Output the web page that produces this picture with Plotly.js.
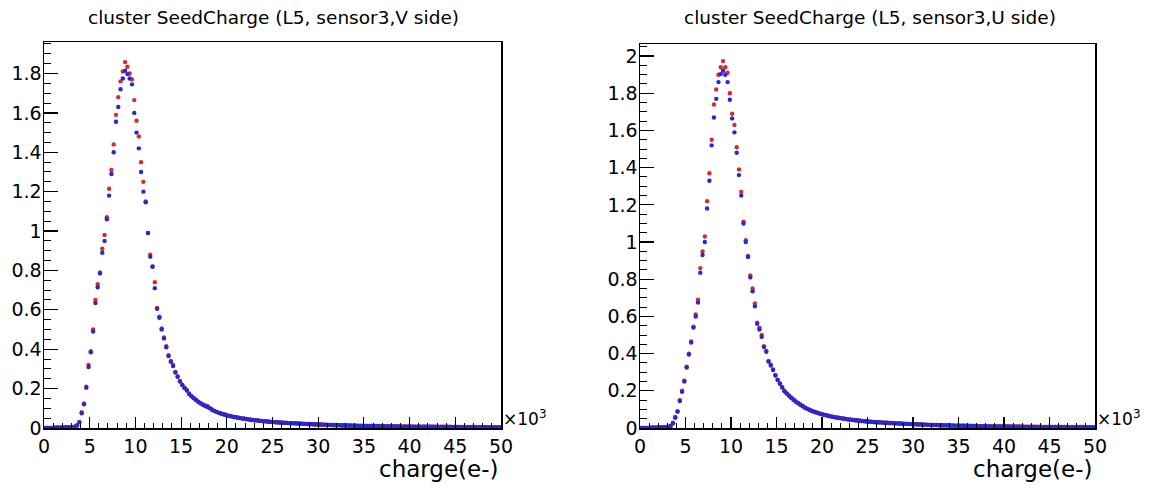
<!DOCTYPE html>
<html>
<head>
<meta charset="utf-8">
<script src="https://cdn.plot.ly/plotly-3.0.1.min.js"></script>
<style>
html,body{margin:0;padding:0;background:#fff;}
#chart{width:1153px;height:488px;}
</style>
</head>
<body>
<div id="chart"></div>
<script>
// Histogram: 200 bins of 250 e- from 0 to 50000 e- (x axis shown in units of 10^3)
var binWidthK = 0.25;
var nBins = 200;

// Panel titles / axis labels
var titleV = "cluster SeedCharge (L5, sensor3,V side)";
var titleU = "cluster SeedCharge (L5, sensor3,U side)";
var xLabel = "charge(e-)";
var xTickVals = [0,5,10,15,20,25,30,35,40,45,50];
var yTickValsV = [0,0.2,0.4,0.6,0.8,1,1.2,1.4,1.6,1.8];
var yTickValsU = [0,0.2,0.4,0.6,0.8,1,1.2,1.4,1.6,1.8,2];

// V side, red series
var vRed = [
0,0,0,0,0.002,0.002,0.003,0.002,0.003,0.004,
0.003,0.004,0.005,0.007,0.015,0.03,0.08,0.125,0.21,0.32,
0.39,0.50,0.65,0.73,0.79,0.91,0.98,1.07,1.215,1.31,
1.44,1.59,1.68,1.76,1.81,1.858,1.834,1.80,1.77,1.665,
1.56,1.48,1.35,1.25,1.15,0.99,0.88,0.82,0.74,0.61,
0.565,0.505,0.46,0.415,0.37,0.34,0.32,0.285,0.262,0.239,
0.22,0.205,0.193,0.175,0.163,0.153,0.144,0.134,0.127,0.119,
0.115,0.112,0.102,0.094,0.087,0.082,0.078,0.074,0.070,0.067,
0.063,0.061,0.058,0.056,0.054,0.051,0.049,0.048,0.046,0.044,
0.042,0.041,0.039,0.038,0.037,0.036,0.035,0.034,0.032,0.031,
0.030,0.029,0.029,0.028,0.027,0.027,0.026,0.025,0.025,0.024,
0.024,0.023,0.022,0.022,0.021,0.020,0.020,0.019,0.019,0.019,
0.018,0.018,0.017,0.017,0.016,0.016,0.015,0.015,0.015,0.014,
0.014,0.014,0.013,0.013,0.013,0.012,0.012,0.012,0.012,0.011,
0.011,0.011,0.011,0.010,0.010,0.010,0.010,0.010,0.009,0.009,
0.009,0.009,0.009,0.009,0.008,0.008,0.008,0.008,0.008,0.008,
0.008,0.007,0.007,0.007,0.007,0.007,0.007,0.007,0.007,0.006,
0.006,0.006,0.006,0.006,0.006,0.006,0.006,0.006,0.005,0.005,
0.005,0.005,0.005,0.005,0.005,0.005,0.005,0.005,0.005,0.004,
0.004,0.004,0.004,0.004,0.004,0.004,0.004,0.004,0.004,0.004
];

// V side, blue series
var vBlue = [
0,0,0,0,0.002,0.003,0.002,0.003,0.003,0.003,
0.004,0.004,0.004,0.006,0.012,0.03,0.075,0.12,0.205,0.31,
0.385,0.49,0.635,0.715,0.785,0.89,0.95,1.06,1.18,1.29,
1.40,1.555,1.63,1.72,1.775,1.814,1.797,1.775,1.745,1.60,
1.50,1.42,1.30,1.20,1.146,0.99,0.87,0.819,0.71,0.605,
0.56,0.50,0.455,0.41,0.365,0.336,0.315,0.282,0.26,0.236,
0.218,0.203,0.19,0.173,0.161,0.151,0.142,0.133,0.125,0.118,
0.112,0.107,0.101,0.093,0.087,0.082,0.077,0.073,0.070,0.066,
0.063,0.060,0.058,0.055,0.053,0.051,0.049,0.047,0.046,0.044,
0.042,0.040,0.039,0.038,0.036,0.035,0.034,0.033,0.032,0.031,
0.030,0.029,0.028,0.028,0.027,0.026,0.026,0.025,0.024,0.024,
0.023,0.023,0.022,0.021,0.021,0.020,0.019,0.019,0.018,0.018,
0.018,0.017,0.017,0.016,0.016,0.015,0.015,0.014,0.014,0.014,
0.013,0.013,0.013,0.012,0.012,0.012,0.012,0.011,0.011,0.011,
0.011,0.010,0.010,0.010,0.010,0.009,0.009,0.009,0.009,0.009,
0.008,0.008,0.008,0.008,0.008,0.008,0.007,0.007,0.007,0.007,
0.007,0.007,0.007,0.006,0.006,0.006,0.006,0.006,0.006,0.006,
0.006,0.005,0.005,0.005,0.005,0.005,0.005,0.005,0.005,0.005,
0.005,0.005,0.004,0.004,0.004,0.004,0.004,0.004,0.004,0.004,
0.004,0.004,0.004,0.004,0.003,0.003,0.003,0.003,0.003,0.003
];

// U side, red series
var uRed = [
0,0,0,0,0.002,0.002,0.003,0.003,0.003,0.004,
0.004,0.005,0.006,0.012,0.029,0.06,0.09,0.15,0.20,0.255,
0.33,0.40,0.465,0.545,0.61,0.69,0.86,0.95,1.03,1.22,
1.37,1.55,1.74,1.82,1.90,1.94,1.973,1.94,1.91,1.80,
1.69,1.63,1.51,1.39,1.27,1.11,1.01,0.925,0.82,0.75,
0.67,0.566,0.54,0.50,0.44,0.415,0.36,0.34,0.315,0.285,
0.26,0.24,0.22,0.20,0.187,0.175,0.164,0.153,0.143,0.135,
0.126,0.118,0.110,0.104,0.098,0.093,0.088,0.084,0.080,0.076,
0.073,0.070,0.067,0.064,0.061,0.059,0.057,0.055,0.053,0.051,
0.049,0.047,0.045,0.044,0.042,0.041,0.040,0.038,0.037,0.036,
0.035,0.034,0.033,0.032,0.031,0.030,0.030,0.029,0.028,0.027,
0.027,0.026,0.025,0.025,0.024,0.023,0.023,0.022,0.022,0.021,
0.021,0.020,0.020,0.019,0.019,0.018,0.018,0.017,0.017,0.017,
0.016,0.016,0.015,0.015,0.015,0.014,0.014,0.014,0.013,0.013,
0.013,0.012,0.012,0.012,0.012,0.011,0.011,0.011,0.011,0.010,
0.010,0.010,0.010,0.010,0.009,0.009,0.009,0.009,0.009,0.009,
0.008,0.008,0.008,0.008,0.008,0.008,0.008,0.007,0.007,0.007,
0.007,0.007,0.007,0.007,0.007,0.006,0.006,0.006,0.006,0.006,
0.006,0.006,0.006,0.006,0.005,0.005,0.005,0.005,0.005,0.005,
0.005,0.005,0.005,0.005,0.005,0.005,0.004,0.004,0.004,0.004
];

// U side, blue series
var uBlue = [
0,0,0,0,0.002,0.003,0.002,0.003,0.004,0.003,
0.004,0.005,0.005,0.011,0.025,0.055,0.088,0.145,0.195,0.25,
0.325,0.395,0.46,0.54,0.60,0.675,0.835,0.93,1.00,1.18,
1.33,1.52,1.67,1.77,1.86,1.903,1.921,1.90,1.86,1.765,
1.665,1.59,1.48,1.36,1.25,1.10,1.00,0.92,0.81,0.735,
0.655,0.56,0.53,0.49,0.435,0.41,0.357,0.336,0.312,0.282,
0.258,0.238,0.218,0.198,0.185,0.173,0.162,0.151,0.141,0.133,
0.125,0.117,0.109,0.103,0.097,0.092,0.087,0.083,0.079,0.075,
0.072,0.069,0.066,0.063,0.061,0.058,0.056,0.054,0.052,0.050,
0.048,0.046,0.045,0.043,0.042,0.040,0.039,0.038,0.036,0.035,
0.034,0.033,0.032,0.031,0.031,0.030,0.029,0.028,0.028,0.027,
0.026,0.026,0.025,0.024,0.024,0.023,0.022,0.022,0.021,0.021,
0.020,0.020,0.019,0.019,0.018,0.018,0.017,0.017,0.016,0.016,
0.016,0.015,0.015,0.014,0.014,0.014,0.013,0.013,0.013,0.012,
0.012,0.012,0.012,0.011,0.011,0.011,0.011,0.010,0.010,0.010,
0.010,0.009,0.009,0.009,0.009,0.009,0.008,0.008,0.008,0.008,
0.008,0.008,0.007,0.007,0.007,0.007,0.007,0.007,0.007,0.006,
0.006,0.006,0.006,0.006,0.006,0.006,0.006,0.005,0.005,0.005,
0.005,0.005,0.005,0.005,0.005,0.005,0.005,0.004,0.004,0.004,
0.004,0.004,0.004,0.004,0.004,0.004,0.004,0.004,0.003,0.003
];

// bin centres (in units of 10^3 e-)
var binCenters = [];
for (var i = 0; i < nBins; i++) binCenters.push((i + 0.5) * binWidthK);

var RED = 'rgb(222,40,40)';
var BLUE = 'rgb(40,40,210)';
var FONT = 'DejaVu Sans, Liberation Sans, Arial, sans-serif';

function mk(y, color, xa, ya) {
  return {
    x: binCenters, y: y, type: 'scatter', mode: 'markers',
    xaxis: xa, yaxis: ya, cliponaxis: true,
    marker: {symbol: 'circle', size: 4.4, color: color, line: {width: 0}},
    hoverinfo: 'x+y', showlegend: false
  };
}

var data = [
  mk(vRed, RED, 'x', 'y'),
  mk(vBlue, BLUE, 'x', 'y'),
  mk(uRed, RED, 'x2', 'y2'),
  mk(uBlue, BLUE, 'x2', 'y2')
];

var W = 1153, H = 488;
function px(v) { return v / W; }
function py(v) { return 1 - v / H; }

function xax(domain, anchor) {
  return {
    domain: domain, anchor: anchor, range: [0, 50],
    tickmode: 'array', tickvals: xTickVals, ticktext: xTickVals.map(String),
    ticks: 'inside', ticklen: 11, tickwidth: 1.2, tickcolor: '#000',
    minor: {dtick: 1, tick0: 0, ticks: 'inside', ticklen: 5, tickwidth: 1, tickcolor: '#000', showgrid: false},
    showline: true, linecolor: '#000', linewidth: 1.5, mirror: true,
    showgrid: false, zeroline: false,
    tickfont: {family: FONT, size: 19, color: '#000'},
    ticklabelstandoff: 1, fixedrange: true
  };
}
function yax(domain, anchor, range, tv) {
  return {
    domain: domain, anchor: anchor, range: range,
    tickmode: 'array', tickvals: tv, ticktext: tv.map(String),
    ticks: 'inside', ticklen: 14, tickwidth: 1.2, tickcolor: '#000',
    minor: {dtick: 0.05, tick0: 0, ticks: 'inside', ticklen: 7, tickwidth: 1, tickcolor: '#000', showgrid: false},
    showline: true, linecolor: '#000', linewidth: 1.5, mirror: true,
    showgrid: false, zeroline: false,
    tickfont: {family: FONT, size: 19, color: '#000'},
    ticklabelstandoff: -3, fixedrange: true
  };
}

var layout = {
  width: W, height: H, autosize: false,
  margin: {l: 0, r: 0, t: 0, b: 0, pad: 0},
  paper_bgcolor: '#fff', plot_bgcolor: '#fff',
  showlegend: false,
  xaxis: xax([px(44), px(501)], 'y'),
  yaxis: yax([py(428), py(42)], 'x', [0, 1.96], yTickValsV),
  xaxis2: xax([px(640), px(1095)], 'y2'),
  yaxis2: yax([py(428), py(44)], 'x2', [0, 2.065], yTickValsU),
  annotations: [
    {text: titleV, xref: 'paper', yref: 'paper', x: px(273), y: py(17), xanchor: 'center', yanchor: 'middle', showarrow: false, font: {family: FONT, size: 18.5, color: '#000'}},
    {text: titleU, xref: 'paper', yref: 'paper', x: px(870), y: py(17), xanchor: 'center', yanchor: 'middle', showarrow: false, font: {family: FONT, size: 18.5, color: '#000'}},
    {text: xLabel, xref: 'paper', yref: 'paper', x: px(501), y: py(469), xanchor: 'right', yanchor: 'middle', showarrow: false, font: {family: FONT, size: 23, color: '#000'}},
    {text: xLabel, xref: 'paper', yref: 'paper', x: px(1095), y: py(469), xanchor: 'right', yanchor: 'middle', showarrow: false, font: {family: FONT, size: 23, color: '#000'}},
    {text: '×10<sup>3</sup>', xref: 'paper', yref: 'paper', x: px(501), y: py(418), xanchor: 'left', yanchor: 'middle', showarrow: false, font: {family: FONT, size: 17, color: '#000'}},
    {text: '×10<sup>3</sup>', xref: 'paper', yref: 'paper', x: px(1095), y: py(418), xanchor: 'left', yanchor: 'middle', showarrow: false, font: {family: FONT, size: 17, color: '#000'}}
  ]
};

Plotly.newPlot('chart', data, layout, {displayModeBar: false, staticPlot: true});
</script>
</body>
</html>
